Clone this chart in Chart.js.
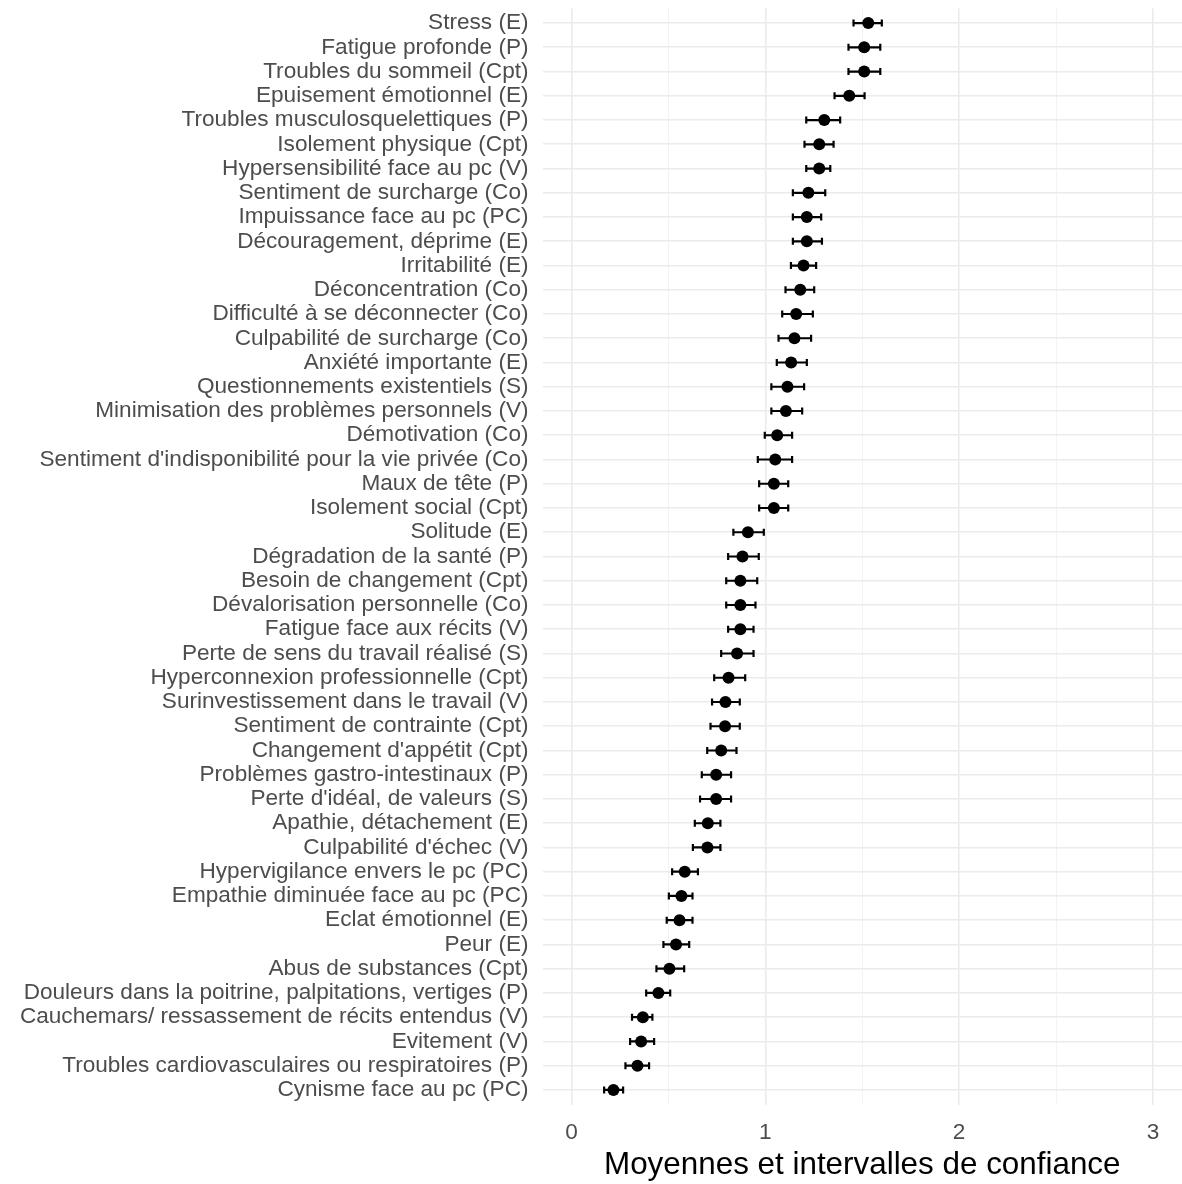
<!DOCTYPE html>
<html lang="fr">
<head>
<meta charset="utf-8">
<title>Moyennes et intervalles de confiance</title>
<script src="https://cdn.jsdelivr.net/npm/chart.js@4.4.1/dist/chart.umd.min.js"></script>
<style>
  html, body { margin: 0; padding: 0; background: #ffffff; overflow: hidden; }
  #wrap { width: 1182px; height: 1184px; position: relative; }
</style>
</head>
<body>
<div id="wrap"><canvas id="chart"></canvas></div>
<script>
// Symptoms, ordered from the highest mean to the lowest
const categories = [
  "Stress (E)",
  "Fatigue profonde (P)",
  "Troubles du sommeil (Cpt)",
  "Epuisement émotionnel (E)",
  "Troubles musculosquelettiques (P)",
  "Isolement physique (Cpt)",
  "Hypersensibilité face au pc (V)",
  "Sentiment de surcharge (Co)",
  "Impuissance face au pc (PC)",
  "Découragement, déprime (E)",
  "Irritabilité (E)",
  "Déconcentration (Co)",
  "Difficulté à se déconnecter (Co)",
  "Culpabilité de surcharge (Co)",
  "Anxiété importante (E)",
  "Questionnements existentiels (S)",
  "Minimisation des problèmes personnels (V)",
  "Démotivation (Co)",
  "Sentiment d'indisponibilité pour la vie privée (Co)",
  "Maux de tête (P)",
  "Isolement social (Cpt)",
  "Solitude (E)",
  "Dégradation de la santé (P)",
  "Besoin de changement (Cpt)",
  "Dévalorisation personnelle (Co)",
  "Fatigue face aux récits (V)",
  "Perte de sens du travail réalisé (S)",
  "Hyperconnexion professionnelle (Cpt)",
  "Surinvestissement dans le travail (V)",
  "Sentiment de contrainte (Cpt)",
  "Changement d'appétit (Cpt)",
  "Problèmes gastro-intestinaux (P)",
  "Perte d'idéal, de valeurs (S)",
  "Apathie, détachement (E)",
  "Culpabilité d'échec (V)",
  "Hypervigilance envers le pc (PC)",
  "Empathie diminuée face au pc (PC)",
  "Eclat émotionnel (E)",
  "Peur (E)",
  "Abus de substances (Cpt)",
  "Douleurs dans la poitrine, palpitations, vertiges (P)",
  "Cauchemars/ ressassement de récits entendus (V)",
  "Evitement (V)",
  "Troubles cardiovasculaires ou respiratoires (P)",
  "Cynisme face au pc (PC)"
];

const means = [
  1.531, 1.510, 1.510, 1.433, 1.304, 1.278, 1.278, 1.222, 1.214, 1.214,
  1.197, 1.180, 1.159, 1.150, 1.133, 1.114, 1.106, 1.061, 1.051, 1.044,
  1.044, 0.910, 0.882, 0.871, 0.871, 0.871, 0.854, 0.810, 0.794, 0.792,
  0.772, 0.746, 0.746, 0.703, 0.701, 0.584, 0.567, 0.557, 0.539, 0.505,
  0.448, 0.368, 0.359, 0.340, 0.216
];

const lower = [
  1.455, 1.429, 1.429, 1.357, 1.211, 1.202, 1.211, 1.142, 1.142, 1.142,
  1.132, 1.104, 1.087, 1.068, 1.059, 1.031, 1.031, 0.997, 0.961, 0.968,
  0.968, 0.835, 0.808, 0.798, 0.798, 0.808, 0.772, 0.736, 0.725, 0.717,
  0.700, 0.672, 0.663, 0.636, 0.626, 0.519, 0.502, 0.491, 0.474, 0.438,
  0.385, 0.312, 0.302, 0.278, 0.168
];

const upper = [
  1.601, 1.593, 1.593, 1.512, 1.386, 1.352, 1.335, 1.309, 1.288, 1.292,
  1.262, 1.252, 1.245, 1.236, 1.214, 1.200, 1.190, 1.138, 1.138, 1.118,
  1.118, 0.992, 0.966, 0.958, 0.949, 0.939, 0.939, 0.896, 0.868, 0.868,
  0.851, 0.823, 0.823, 0.768, 0.768, 0.652, 0.624, 0.624, 0.607, 0.581,
  0.509, 0.417, 0.426, 0.400, 0.266
];

const xTicks = [0, 0.5, 1, 1.5, 2, 2.5, 3];
const xTitle = "Moyennes et intervalles de confiance";

const FONT = "'Liberation Sans', Arial, sans-serif";

// Horizontal confidence-interval bars, drawn under the points
const errorBars = {
  id: 'errorBars',
  beforeDatasetsDraw(chart) {
    const { ctx, scales: { x, y } } = chart;
    const cap = 3.5;
    ctx.save();
    ctx.strokeStyle = '#000000';
    ctx.lineWidth = 2.2;
    ctx.lineCap = 'butt';
    categories.forEach((_, i) => {
      const yy = y.getPixelForValue(i);
      const x0 = x.getPixelForValue(lower[i]);
      const x1 = x.getPixelForValue(upper[i]);
      ctx.beginPath();
      ctx.moveTo(x0, yy); ctx.lineTo(x1, yy);
      ctx.moveTo(x0, yy - cap); ctx.lineTo(x0, yy + cap);
      ctx.moveTo(x1, yy - cap); ctx.lineTo(x1, yy + cap);
      ctx.stroke();
    });
    ctx.restore();
  }
};

// Keep the plotting panel at a fixed place: no extra room for edge labels
function noEdgePadding(scale) {
  scale.paddingTop = 0;
  scale.paddingBottom = 0;
  scale.paddingLeft = 0;
  scale.paddingRight = 0;
}

new Chart(document.getElementById('chart'), {
  type: 'scatter',
  data: {
    datasets: [{
      data: means.map((m, i) => ({ x: m, y: i })),
      backgroundColor: '#000000',
      borderColor: '#000000',
      pointRadius: 6,
      pointHoverRadius: 6,
      borderWidth: 0
    }]
  },
  options: {
    responsive: true,
    maintainAspectRatio: false,
    animation: false,
    layout: { autoPadding: false, padding: { top: 8.5, right: 0, left: 0, bottom: 0 } },
    plugins: { legend: { display: false }, tooltip: { enabled: false } },
    scales: {
      x: {
        type: 'linear',
        min: -0.15,
        max: 3.15,
        afterBuildTicks(scale) { scale.ticks = xTicks.map(v => ({ value: v })); },
        afterFit(scale) { scale.height = 79.5; noEdgePadding(scale); },
        border: { display: false },
        grid: {
          drawTicks: false,
          color: (c) => (c.tick && c.tick.value % 1 === 0) ? '#ebebeb' : '#f2f2f2',
          lineWidth: (c) => (c.tick && c.tick.value % 1 === 0) ? 1.6 : 0.9
        },
        ticks: {
          autoSkip: false,
          maxRotation: 0,
          padding: 15,
          color: '#4d4d4d',
          font: { family: FONT, size: 22.6 },
          callback: (v) => (v % 1 === 0 ? String(v) : '')
        },
        title: {
          display: true,
          text: xTitle,
          color: '#000000',
          font: { family: FONT, size: 31.4 },
          padding: { top: 0, bottom: 0 }
        }
      },
      y: {
        type: 'linear',
        reverse: true,
        min: -0.6,
        max: categories.length - 1 + 0.6,
        afterBuildTicks(scale) { scale.ticks = categories.map((_, i) => ({ value: i })); },
        afterFit(scale) { scale.width = 542.5; noEdgePadding(scale); },
        border: { display: false },
        grid: { drawTicks: false, color: '#ebebeb', lineWidth: 1.6 },
        ticks: {
          autoSkip: false,
          padding: 14,
          color: '#4d4d4d',
          font: { family: FONT, size: 22.6 },
          callback: (v) => categories[v]
        }
      }
    }
  },
  plugins: [errorBars]
});
</script>
</body>
</html>
